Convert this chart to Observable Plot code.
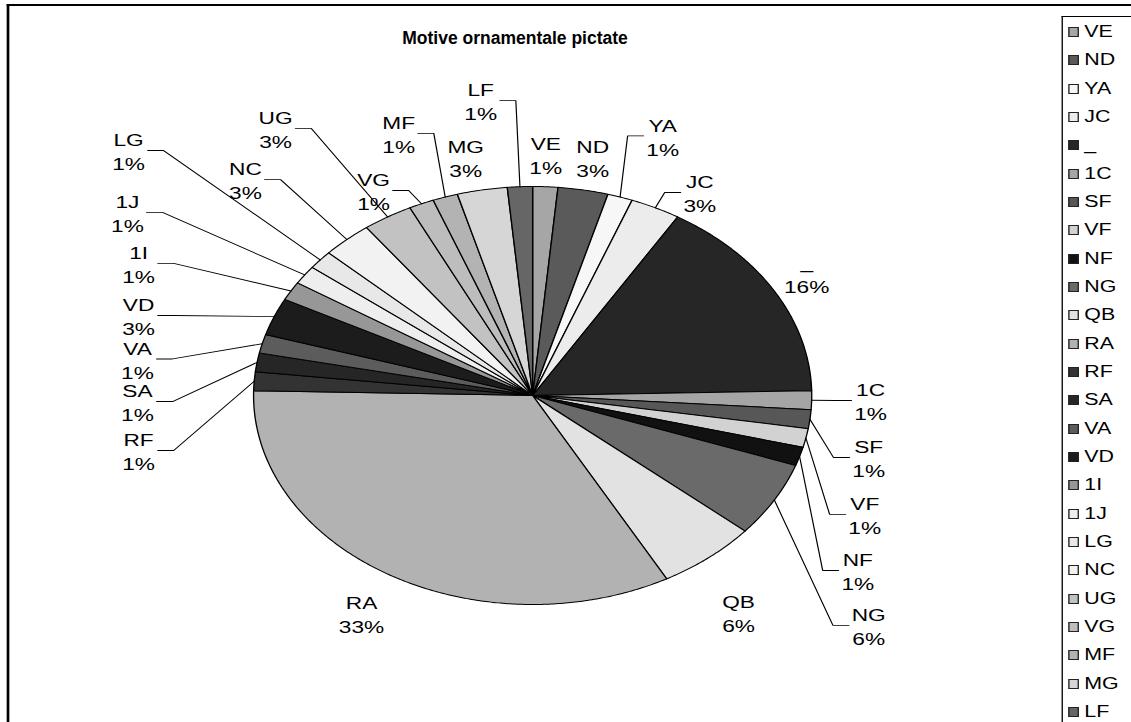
<!DOCTYPE html>
<html><head><meta charset="utf-8">
<script src="https://cdn.jsdelivr.net/npm/d3@7"></script>
<script src="https://cdn.jsdelivr.net/npm/@observablehq/plot@0.6"></script>
<style>
html,body{margin:0;padding:0;background:#fff;overflow:hidden;width:1131px;height:722px;position:relative;}
#page{position:absolute;left:0;top:0;width:847px;height:722px;transform:scaleX(1.3353);transform-origin:0 0;font-family:"Liberation Sans",Arial,sans-serif;}
#chart{position:absolute;left:0;top:0;}
#frame{position:absolute;left:5px;top:4px;width:900px;height:800px;border-left:2px solid #000;border-top:2px solid #000;pointer-events:none;}
#title{position:absolute;left:0;width:1030px;top:29px;text-align:center;font-family:"Liberation Sans",Arial,sans-serif;font-weight:bold;font-size:17.5px;line-height:18px;color:#000;}
#legend{position:absolute;left:795px;top:16px;width:100px;height:800px;border-left:1px solid #000;border-top:1px solid #000;background:#fff;}
.item{position:absolute;left:4px;height:20px;display:flex;align-items:center;font-size:16px;color:#000;white-space:nowrap;}
.sw{width:6px;height:8px;border:1px solid #222;margin-right:4px;flex:none;}
</style></head>
<body><div id="page"><div id="chart"></div><div id="frame"></div><div id="legend"></div></div><div id="title">Motive ornamentale pictate</div>
<script>
// ---- data ----
const names  = ["VE","ND","YA","JC","_","1C","SF","VF","NF","NG","QB","RA","RF","SA","VA","VD","1I","1J","LG","NC","UG","VG","MF","MG","LF"];
const counts = [1,2,1,2,11,1,1,1,1,4,4,23,1,1,1,2,1,1,1,2,2,1,1,2,1];
const colors = ["#a6a6a6","#5a5a5a","#f7f7f7","#ececec","#262626","#a5a5a5","#575757","#d2d2d2","#111111","#6a6a6a",
                "#e2e2e2","#b2b2b2","#333333","#262626","#5c5c5c","#1c1c1c","#979797","#eeeeee","#e8e8e8","#f2f2f2",
                "#c2c2c2","#bdbdbd","#b3b3b3","#d6d6d6","#666666"];
// ---- label layout (in pie-radius units, relative to the pie centre) ----
const labelU = [0.047,0.215,0.466,0.599,0.982,1.211,1.204,1.190,1.165,1.204,0.738,-0.613,-1.412,-1.416,-1.416,-1.412,-1.412,-1.452,-1.448,-1.029,-0.921,-0.570,-0.480,-0.240,-0.186];
const labelV = [1.153,1.139,1.242,0.971,0.584,-0.024,-0.297,-0.569,-0.837,-1.100,-1.038,-1.043,-0.263,-0.029,0.175,0.383,0.632,0.876,1.172,1.033,1.278,0.981,1.254,1.139,1.411];
const plainLabels = new Set(["VE","ND","_","QB","RA","MG"]);   // labels drawn without a leader line

const CX = 398.4, CY = 395, R = 209, FS = 17, LH = 1.42;
const total = d3.sum(counts);
let acc = 0;
const slices = names.map((n, i) => {
  const a0 = acc / total * 2 * Math.PI; acc += counts[i];
  const a1 = acc / total * 2 * Math.PI;
  return {name: n, a0, a1, mid: (a0 + a1) / 2, pct: Math.round(counts[i] / total * 100) + "%", i};
});
const slicePts = slices.flatMap(s => {
  const pts = [{name: s.name, x: 0, y: 0}];
  const n = Math.max(2, Math.ceil((s.a1 - s.a0) / (Math.PI / 360)));
  for (let k = 0; k <= n; k++) { const a = s.a0 + (s.a1 - s.a0) * k / n; pts.push({name: s.name, x: Math.sin(a), y: Math.cos(a)}); }
  pts.push({name: s.name, x: 0, y: 0});
  return pts;
});
// label measurement
const ctx = document.createElement("canvas").getContext("2d");
ctx.font = FS + "px 'Liberation Sans', Arial, sans-serif";
const labels = slices.map(s => ({name: s.name, u: labelU[s.i], v: labelV[s.i], t: s.name + "\n" + s.pct,
  w: Math.max(ctx.measureText(s.name).width, ctx.measureText(s.pct).width)}));
// leader lines: short horizontal stub beside the label, then straight to the slice edge
const leaders = [];
slices.forEach((s, i) => {
  if (plainLabels.has(s.name)) return;
  const L = labels[i];
  const ex = CX + R * Math.sin(s.mid), ey = CY - R * Math.cos(s.mid);
  const lx = CX + R * L.u, ly = CY - R * L.v;
  const hw = L.w / 2;
  const side = ex < lx ? -1 : 1;
  const ax = lx + side * (hw + 2), bx = ax + side * 12;
  [[ax, ly], [bx, ly], [ex, ey]].forEach(([px, py]) => leaders.push({name: s.name, x: (px - CX) / R, y: (CY - py) / R}));
});

const chart = Plot.plot({
  width: 795, height: 722, margin: 0,
  style: {background: "transparent", overflow: "visible"},
  x: {domain: [-1, 1], range: [CX - R, CX + R], axis: null},
  y: {domain: [-1, 1], range: [CY + R, CY - R], axis: null},
  color: {type: "ordinal", domain: names, range: colors},
  marks: [
    Plot.line(slicePts, {x: "x", y: "y", z: "name", fill: "name", stroke: "#000", strokeWidth: 1, strokeLinejoin: "miter", strokeMiterlimit: 4}),
    Plot.line(leaders, {x: "x", y: "y", z: "name", stroke: "#000", strokeWidth: 0.9, strokeLinejoin: "miter"}),
    Plot.text(labels, {x: "u", y: "v", text: "t", fontSize: FS, lineHeight: LH, fill: "#000", fontFamily: "'Liberation Sans', Arial, sans-serif"})
  ]
});
document.getElementById("chart").appendChild(chart);

// legend
const lg = document.getElementById("legend");
names.forEach((n, i) => {
  const it = document.createElement("div");
  it.className = "item";
  it.style.top = (32 - 16 + i * 28.33 - 11) + "px";
  const sw = document.createElement("span"); sw.className = "sw"; sw.style.background = colors[i];
  const tx = document.createElement("span"); tx.textContent = n;
  it.appendChild(sw); it.appendChild(tx); lg.appendChild(it);
});
</script></body></html>
